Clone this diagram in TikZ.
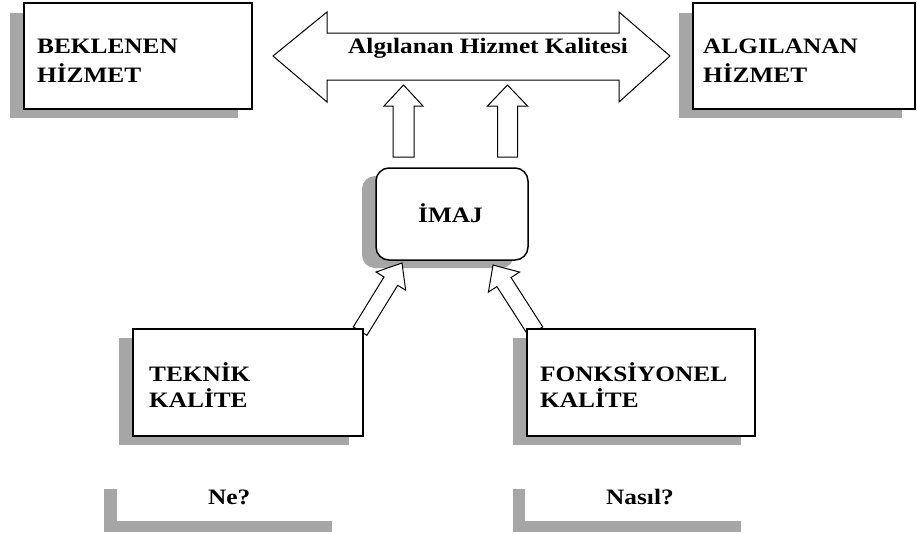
\documentclass[tikz,border=0pt]{standalone}
\usepackage{fontspec}
\setmainfont{Liberation Serif}[FakeStretch=1.15]
\begin{document}
\begin{tikzpicture}[x=1pt,y=-1pt,
  lbl/.style={font=\fontsize{22}{26}\selectfont\bfseries, inner sep=0pt, anchor=base west},
  boxline/.style={draw=black, line width=1.8pt, fill=white},
  shade/.style={fill=black!35, draw=none},
  blk/.style={draw=black, line width=1pt, fill=white, line join=miter}]
\useasboundingbox (0,0) rectangle (917,533);

% block arrow: tip, angle, length, head length, head half width, shaft half width
\newcommand{\blkarrow}[6]{%
  \begin{scope}[shift={#1}, rotate=#2]
    \draw[blk] (0,0) -- (-#4,#5) -- (-#4,#6) -- (-#3,#6) -- (-#3,-#6)
      -- (-#4,-#6) -- (-#4,-#5) -- cycle;
  \end{scope}}

% shadows
\fill[shade] (10,13) rectangle (238,118);
\fill[shade] (679,13) rectangle (902,118);
\fill[shade, rounded corners=13pt] (362,176) rectangle (514,268);
\fill[shade] (119,338) rectangle (349,445);
\fill[shade] (513,338) rectangle (741,445);
\fill[shade] (104,489) rectangle (332,532);
\fill[shade] (513,489) rectangle (741,532);
% label panels for the two questions (white, no border)
\fill[white] (117,478) rectangle (345,521);
\fill[white] (525,478) rectangle (755,521);

% double arrow between the two top boxes
\coordinate (dl) at (273,56);
\coordinate (dr) at (670,56);
\draw[blk] (dl) -- (327,12) -- (327,33) -- (619,33) -- (619,12) -- (dr)
  -- (619,102) -- (619,80) -- (327,80) -- (327,102) -- cycle;

% arrows from the image box up to the double arrow
\coordinate (u1) at (403.5,85);
\coordinate (u2) at (507.5,85);
\blkarrow{(u1)}{90}{72}{21}{19.5}{10.5}
\blkarrow{(u2)}{90}{72}{21}{20}{10}

% arrows from the quality boxes to the image box
\coordinate (d1) at (402,263);
\coordinate (d2) at (493,265);
\blkarrow{(d1)}{58.4}{80}{21.3}{17.4}{8}
\blkarrow{(d2)}{122.7}{79}{20.3}{18.5}{8.4}

% boxes
\node[boxline, minimum width=228pt, minimum height=106pt, inner sep=0pt] (bek) at (138,56) {};
\node[boxline, minimum width=222pt, minimum height=106pt, inner sep=0pt] (alg) at (804,56) {};
\node[draw=black, line width=1.5pt, fill=white, rounded corners=13pt,
  minimum width=152pt, minimum height=92pt, inner sep=0pt] (imaj) at (452,214) {};
\node[boxline, minimum width=230pt, minimum height=107pt, inner sep=0pt] (tek) at (248,382.5) {};
\node[boxline, minimum width=228pt, minimum height=107pt, inner sep=0pt] (fonk) at (641,382.5) {};

% texts
\node[lbl] (t1a) at (37,53) {BEKLENEN};
\node[lbl] (t1b) at (37,82) {HİZMET};
\node[lbl] (t2a) at (703,53) {ALGILANAN};
\node[lbl] (t2b) at (703,82) {HİZMET};
\node[lbl] (t3) at (348,53) {Algılanan Hizmet Kalitesi};
\node[lbl] (t4) at (418,222) {İMAJ};
\node[lbl] (t5a) at (149,381) {TEKNİK};
\node[lbl] (t5b) at (149,407) {KALİTE};
\node[lbl] (t6a) at (540,381) {FONKSİYONEL};
\node[lbl] (t6b) at (540,407) {KALİTE};
\node[lbl] (t7) at (208,504) {Ne?};
\node[lbl] (t8) at (606,504) {Nasıl?};
\end{tikzpicture}
\end{document}
